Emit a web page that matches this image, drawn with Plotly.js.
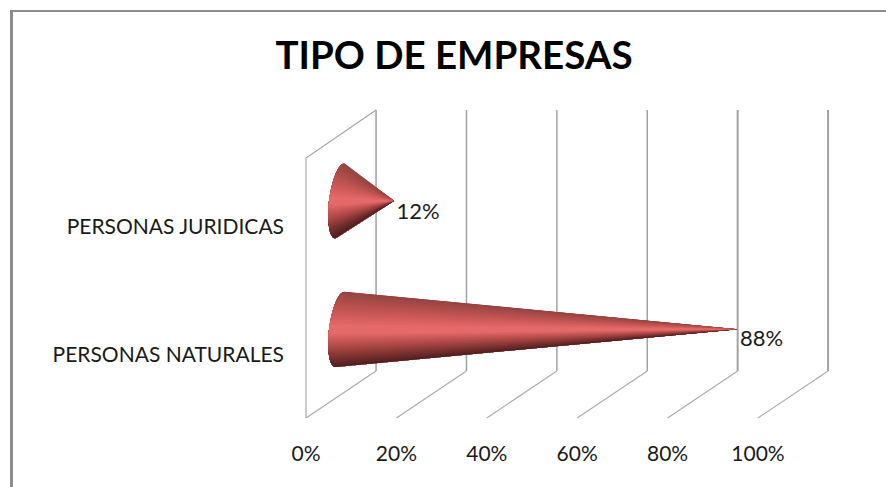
<!DOCTYPE html>
<html><head><meta charset="utf-8">
<script src="https://cdn.plot.ly/plotly-3.0.1.min.js"></script>
<style>html,body{margin:0;padding:0;background:#fff}#c{width:886px;height:487px}</style>
</head><body><div id="c"></div>
<script>
const categories = ['PERSONAS NATURALES', 'PERSONAS JURIDICAS'];
const values = [88, 12];
const valueLabels = ['88%', '12%'];
const tickValues = [0, 20, 40, 60, 80, 100];
const tickLabels = ['0%', '20%', '40%', '60%', '80%', '100%'];
const titleText = 'TIPO DE EMPRESAS';

// geometry of the oblique view, in axis units
const W = 886, H = 487, PX_X = 4.52, PX_Y = 128.5, X0 = 306, Y0 = 355;
const depthX = 15.5, floorBack = -0.1245, floorFront = -0.49, topBack = 1.907, topFront = 1.533;
const coneX = 7.5, coneY = 0.2, coneRx = 2.4, coneTilt = 1.0, coneRy = 0.293;
const shade = [[-1,[150,68,66]],[-0.6,[188,82,80]],[-0.1,[228,104,104]],[0.1,[228,106,106]],[0.5,[170,70,68]],[1,[80,32,32]]];

function shadeAt(s){
  for(let i=1;i<shade.length;i++){
    if(s<=shade[i][0]){
      const a=shade[i-1],b=shade[i],f=(s-a[0])/(b[0]-a[0]);
      const c=a[1].map((v,k)=>Math.round(v+(b[1][k]-v)*f));
      return `rgb(${c[0]},${c[1]},${c[2]})`;
    }
  }
  return 'rgb(80,32,32)';
}

const traces = [];
const base = {type:'scatter', mode:'lines', hoverinfo:'skip', showlegend:false, cliponaxis:false};

// back wall + floor diagonals
tickValues.forEach(v=>{
  traces.push({...base, x:[v+depthX,v+depthX], y:[topBack,floorBack], line:{color:'#a2a2a2',width:v>=80?2:1.5}});
  traces.push({...base, x:[v+depthX,v], y:[floorBack,floorFront], line:{color:'#aaaaaa',width:1.1}});
});
// side wall
traces.push({...base, x:[depthX,0,0], y:[topBack,topFront,floorFront], line:{color:'#a2a2a2',width:1.1}});

// cones: nested polygons from the tip to a shrinking part of the base arc,
// painted outside-in so neighbouring shades share an edge and the lit centre reaches the tip
const HALF = 24;
values.forEach((val,i)=>{
  const cy = i+coneY, cx = coneX;
  const pt = t => [cx - coneRx*Math.cos(t) + coneTilt*(-Math.sin(t)), cy - coneRy*Math.sin(t)];
  const poly = (a,b,col)=>{
    const xs=[cx+val], ys=[cy];
    for(let j=0;j<=12;j++){ const p=pt(a+(b-a)*j/12); xs.push(p[0]); ys.push(p[1]); }
    xs.push(cx+val); ys.push(cy);
    traces.push({...base, x:xs, y:ys, fill:'toself', fillcolor:col, line:{color:col,width:0}});
  };
  const step = Math.PI/2/HALF;
  for(let k=0;k<HALF;k++){           // upper half, from the top edge down
    const a=-Math.PI/2+k*step;
    poly(a, Math.PI/2, shadeAt(Math.sin(a+step/2)));
  }
  for(let k=0;k<HALF;k++){           // lower half, from the bottom edge up
    const b=Math.PI/2-k*step;
    poly(0, b, shadeAt(Math.sin(b-step/2)));
  }
  poly(-2*step, 2*step, shadeAt(0)); // lit band over the join of both halves
});

// data labels
traces.push({type:'scatter', mode:'text', hoverinfo:'skip', showlegend:false, cliponaxis:false,
  x:values.map(v=>v+12.8), y:values.map((v,i)=>i+(i?0.1:0.11)), text:valueLabels,
  textposition:'middle center', textfont:{family:'Lato, sans-serif', size:22, color:'#1a1a1a'}});

const layout = {
  width:W, height:H, margin:{l:0,r:0,t:0,b:0}, paper_bgcolor:'#fff', plot_bgcolor:'rgba(0,0,0,0)', showlegend:false,
  title:{text:titleText, x:454/W, y:1-56/H, xanchor:'center', yanchor:'middle', xref:'paper', yref:'paper',
    font:{family:'Lato, sans-serif', size:38.5, color:'#000', weight:700}},
  xaxis:{range:[-X0/PX_X,(W-X0)/PX_X], domain:[0,1], anchor:'free', position:(H-439)/H, tickmode:'array',
    tickvals:tickValues, ticktext:tickLabels, showgrid:false, zeroline:false, showline:false, ticks:'',
    tickfont:{family:'Lato, sans-serif', size:21, color:'#1a1a1a'}},
  yaxis:{range:[(Y0-H)/PX_Y,Y0/PX_Y], domain:[0,1], anchor:'free', position:284/W, tickmode:'array',
    tickvals:categories.map((c,i)=>i), ticktext:categories, showgrid:false, zeroline:false, showline:false, ticks:'',
    tickfont:{family:'Lato, sans-serif', size:21, color:'#1a1a1a'}},
  shapes:[
    {type:'line',xref:'paper',yref:'paper',x0:11.5/W,x1:11.5/W,y0:0,y1:1-10/H,line:{color:'#8c8c8c',width:3}},
    {type:'line',xref:'paper',yref:'paper',x0:10/W,x1:1,y0:1-11/H,y1:1-11/H,line:{color:'#8c8c8c',width:2}}
  ]
};
Plotly.newPlot('c', traces, layout, {displayModeBar:false, staticPlot:true});
</script></body></html>
